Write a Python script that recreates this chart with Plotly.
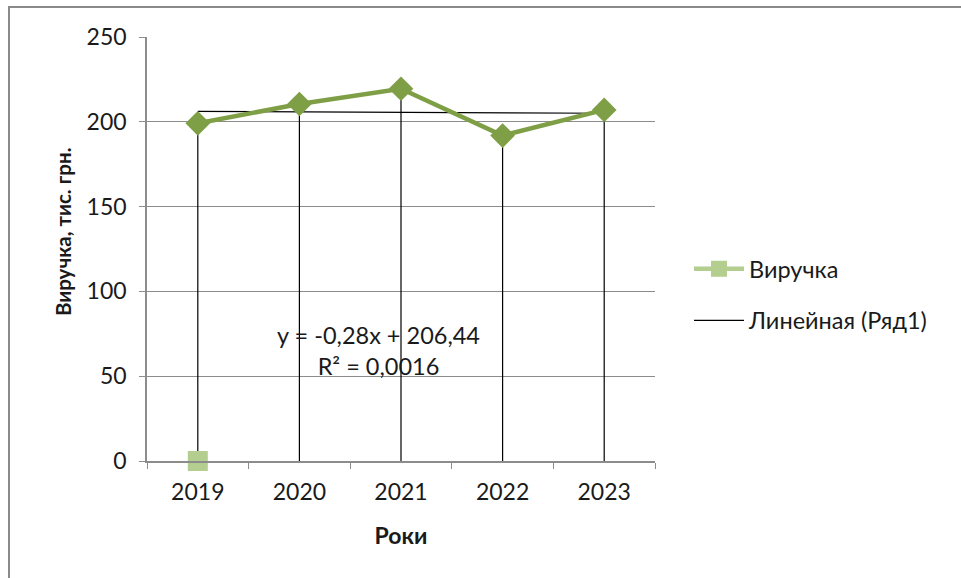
import plotly.graph_objects as go

# Revenue by year, thousand UAH
years = ["2019", "2020", "2021", "2022", "2023"]
revenue = [199.1, 210.5, 219.5, 191.9, 207.0]

# Second series: a single point at zero for the first year
legend_years = ["2019"]
legend_values = [0]

# Linear trend coefficients (x = 1..5)
slope = -0.28
intercept = 206.44
r_squared = 0.0016

trend_x = [1, 5]
trend_y = [slope * x + intercept for x in trend_x]
trend_cat = [years[x - 1] for x in trend_x]

FONT = "Lato"
GREEN = "#7F9F46"
LIGHT_GREEN = "#B3CE8E"
GRID = "#8C8C8C"
TXT = "#1a1a1a"

# plot area in pixels: left 147, right 655, top 37, bottom 461
def px_x(p):
    return (p - 147) / 508

def px_y(p):
    return (461 - p) / 424

fig = go.Figure()

# Drop lines from each point to the category axis
drop_x, drop_y = [], []
for yr, v in zip(years, revenue):
    drop_x += [yr, yr, None]
    drop_y += [v, 0, None]
fig.add_trace(go.Scatter(
    x=drop_x, y=drop_y, mode="lines",
    line=dict(color="black", width=1.2),
    showlegend=False, hoverinfo="skip",
))

# Linear trend
fig.add_trace(go.Scatter(
    x=trend_cat, y=trend_y, mode="lines",
    line=dict(color="black", width=1.2),
    name="Линейная (Ряд1)", legendrank=2, legendgroup="trend",
))

# Main revenue series
fig.add_trace(go.Scatter(
    x=years, y=revenue, mode="lines+markers",
    line=dict(color=GREEN, width=4.5),
    marker=dict(symbol="diamond", size=19, color=GREEN),
    showlegend=False,
))

fig.add_trace(go.Scatter(
    x=legend_years, y=legend_values, mode="lines+markers",
    line=dict(color=LIGHT_GREEN, width=4.5),
    marker=dict(symbol="square", size=20, color=LIGHT_GREEN),
    name="Виручка", legendrank=1, legendgroup="rev", cliponaxis=False,
))

fig.add_annotation(
    x=px_x(378), y=px_y(350), xref="paper", yref="paper",
    text=f"y = {slope:.2f}x + {intercept:.2f}".replace(".", ",")
    + "<br>R² = " + f"{r_squared:.4f}".replace(".", ","),
    showarrow=False, xanchor="center", yanchor="middle",
    font=dict(family=FONT, size=23.5, color=TXT),
    align="center",
)

# Vertical axis title
fig.add_annotation(
    x=px_x(63), y=px_y(232), xref="paper", yref="paper",
    text="<b>Виручка, тис. грн.</b>", textangle=-90,
    showarrow=False, xanchor="center", yanchor="middle",
    font=dict(family=FONT, size=20.5, color=TXT),
)

# Outer chart border
fig.add_shape(
    type="rect", xref="paper", yref="paper",
    x0=px_x(9), x1=px_x(975),
    y0=px_y(600), y1=px_y(7),
    line=dict(color="#8A8A8A", width=2), layer="below",
)

fig.update_layout(
    width=961, height=578,
    margin=dict(l=147, r=306, t=37, b=117),
    paper_bgcolor="white", plot_bgcolor="white",
    font=dict(family=FONT, size=23, color=TXT),
    legend=dict(
        x=px_x(689), y=px_y(247), xanchor="left", yanchor="top",
        font=dict(family=FONT, size=23.5, color=TXT),
        itemwidth=50, tracegroupgap=18, bgcolor="rgba(0,0,0,0)",
    ),
    xaxis=dict(
        type="category", categoryorder="array", categoryarray=years,
        range=[-0.5, 4.5], tickson="boundaries",
        ticks="outside", ticklen=6, tickcolor=GRID,
        showline=True, linecolor=GRID, linewidth=1.5,
        showgrid=False, zeroline=False, ticklabelstandoff=10,
        tickfont=dict(family=FONT, size=23, color=TXT),
        title=dict(text="<b>Роки</b>", font=dict(family=FONT, size=23, color=TXT), standoff=24),
    ),
    yaxis=dict(
        range=[0, 250], dtick=50,
        ticks="outside", ticklen=6, tickcolor=GRID,
        showline=True, linecolor=GRID, linewidth=1.5,
        showgrid=True, gridcolor=GRID, gridwidth=1.3, zeroline=False,
        ticklabelstandoff=8,
        tickfont=dict(family=FONT, size=23, color=TXT),
    ),
)

fig.write_html("out.html")
